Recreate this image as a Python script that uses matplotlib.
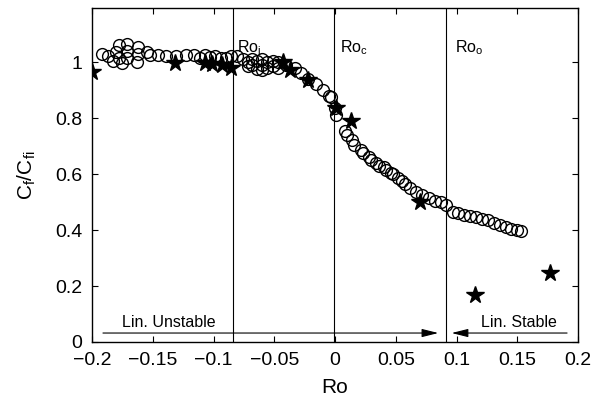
import matplotlib
matplotlib.use("Agg")
import matplotlib.pyplot as plt

plt.rcParams['font.family'] = ['Liberation Sans', 'DejaVu Sans']
plt.rcParams['mathtext.fontset'] = 'custom'
plt.rcParams['mathtext.rm'] = 'Liberation Sans'

circ_x = [-0.192, -0.187, -0.183, -0.180, -0.178, -0.178, -0.175, -0.171, -0.171, -0.171,
          -0.163, -0.162, -0.162, -0.155, -0.152, -0.146, -0.139, -0.131, -0.123, -0.116,
          -0.111, -0.107, -0.103, -0.099, -0.094, -0.090, -0.086, -0.081, -0.076, -0.072,
          -0.072, -0.068, -0.068, -0.064, -0.064, -0.060, -0.060, -0.060, -0.056, -0.056,
          -0.051, -0.051, -0.047, -0.047, -0.040, -0.033, -0.028, -0.022, -0.016, -0.010,
          -0.005, -0.003, 0.000, 0.001, 0.008, 0.010, 0.014, 0.016, 0.021, 0.023,
          0.028, 0.030, 0.034, 0.036, 0.040, 0.042, 0.046, 0.048, 0.052, 0.055,
          0.058, 0.062, 0.067, 0.072, 0.077, 0.082, 0.087, 0.091, 0.097, 0.101,
          0.106, 0.111, 0.116, 0.121, 0.126, 0.131, 0.136, 0.141, 0.145, 0.150, 0.153]
circ_y = [1.03, 1.02, 1.005, 1.035, 1.06, 1.015, 0.995, 1.065, 1.04, 1.015,
          1.0, 1.055, 1.03, 1.035, 1.025, 1.025, 1.02, 1.02, 1.025, 1.025,
          1.015, 1.025, 1.018, 1.022, 1.015, 1.015, 1.02, 1.02, 1.01, 1.0,
          0.985, 1.01, 0.99, 0.975, 1.005, 1.01, 0.99, 0.97, 1.0, 0.98,
          1.005, 0.985, 1.0, 0.98, 0.99, 0.98, 0.96, 0.94, 0.92, 0.9,
          0.88, 0.875, 0.835, 0.81, 0.755, 0.74, 0.72, 0.705, 0.685, 0.675,
          0.66, 0.65, 0.64, 0.63, 0.625, 0.615, 0.605, 0.6, 0.585, 0.575,
          0.565, 0.55, 0.535, 0.525, 0.515, 0.505, 0.5, 0.49, 0.465, 0.46,
          0.455, 0.45, 0.445, 0.44, 0.435, 0.425, 0.418, 0.41, 0.405, 0.4, 0.395]

star_x = [-0.200, -0.132, -0.107, -0.101, -0.093, -0.086, -0.043, -0.037, -0.022,
          0.001, 0.013, 0.070, 0.115, 0.177]
star_y = [0.964, 0.996, 0.996, 0.993, 0.99, 0.98, 1.0, 0.97, 0.936,
          0.836, 0.79, 0.50, 0.168, 0.246]

ro_lines = [-0.084, -0.0005, 0.091]
ro_labels = ['Ro$_\\mathregular{i}$', 'Ro$_\\mathregular{c}$', 'Ro$_\\mathregular{o}$']
ro_label_x = [-0.081, 0.004, 0.099]

xticks = [-0.2, -0.15, -0.1, -0.05, 0, 0.05, 0.1, 0.15, 0.2]
xticklabels = ['\u22120.2', '\u22120.15', '\u22120.1', '\u22120.05', '0', '0.05', '0.1', '0.15', '0.2']
yticks = [0, 0.2, 0.4, 0.6, 0.8, 1]
yticklabels = ['0', '0.2', '0.4', '0.6', '0.8', '1']

fig = plt.figure(figsize=(5.96, 4.03), dpi=100)
ax = fig.add_axes([0.1544, 0.1514, 0.8154, 0.8286])

ax.plot(circ_x, circ_y, 'o', mfc='none', mec='black', ms=8.5, mew=1.0, zorder=2)
ax.plot(star_x, star_y, '*', color='black', ms=13, zorder=3)

for xv in ro_lines:
    ax.axvline(xv, color='black', lw=0.8, zorder=1)
for xv, lab in zip(ro_label_x, ro_labels):
    ax.text(xv, 1.05, lab, fontsize=11.5, ha='left', va='center')

ax.annotate('', xy=(0.085, 0.032), xytext=(-0.191, 0.032),
            arrowprops=dict(arrowstyle='-|>,head_length=1.0,head_width=0.25', color='black', lw=0.8,
                            shrinkA=0, shrinkB=0))
ax.annotate('', xy=(0.096, 0.032), xytext=(0.191, 0.032),
            arrowprops=dict(arrowstyle='-|>,head_length=1.0,head_width=0.25', color='black', lw=0.8,
                            shrinkA=0, shrinkB=0))
ax.text(-0.137, 0.068, 'Lin. Unstable', fontsize=11.5, ha='center', va='center')
ax.text(0.151, 0.068, 'Lin. Stable', fontsize=11.5, ha='center', va='center')

ax.set_xlim(-0.2, 0.2)
ax.set_ylim(0, 1.193)
ax.set_xticks(xticks)
ax.set_xticklabels(xticklabels, fontsize=14)
ax.set_yticks(yticks)
ax.set_yticklabels(yticklabels, fontsize=14)
ax.tick_params(direction='in', top=True, right=True, length=4, width=0.8)
ax.tick_params(axis='x', pad=7)
ax.tick_params(axis='y', pad=7)
for s in ax.spines.values():
    s.set_linewidth(1.0)

ax.set_xlabel('Ro', fontsize=15, labelpad=7)
ax.set_ylabel('C$_\\mathregular{f}$/C$_\\mathregular{fi}$', fontsize=15, labelpad=12)

fig.savefig('out.png', dpi=100)
